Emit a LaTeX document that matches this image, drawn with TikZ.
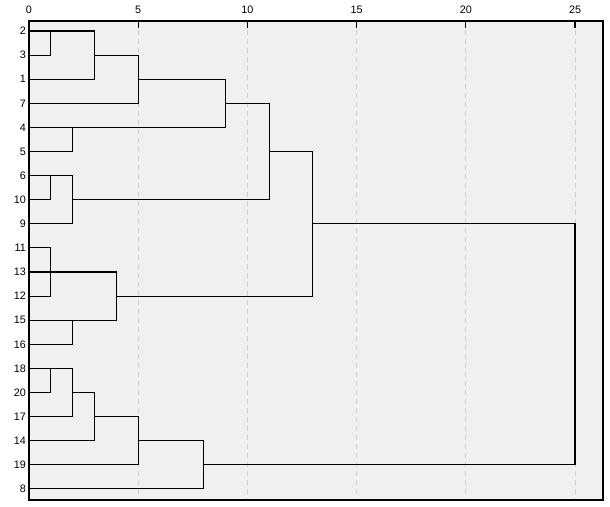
\documentclass[tikz,border=0pt]{standalone}
\usepackage{fontspec}
\setmainfont{Liberation Sans}
\definecolor{plotbg}{HTML}{F0F0F0}
\definecolor{gridc}{HTML}{CFCFCF}
\begin{document}
\begin{tikzpicture}[x=1pt,y=-1pt,
  every node/.style={font=\fontsize{10.8}{12}\selectfont, inner sep=0pt},
  tree/.style={line width=1.15pt, black},
  gridl/.style={line width=0.9pt, gridc, dash pattern=on 5pt off 4pt},
  frame/.style={line width=1.1pt, black}]
\useasboundingbox (0,0) rectangle (610,506);
\fill[white] (0,0) rectangle (610,506);
\fill[plotbg] (29,21) rectangle (603,500);
\begin{scope}[x=21.84pt, y=-24.1pt, shift={(29pt,-31pt)}]
  % grid lines and ticks
  \foreach \v in {5,10,15,20,25} {
    \draw[gridl] (\v,-0.415) -- (\v,19.46);
  }
  \foreach \v in {0,5,10,15,20,25} {
    \draw[frame] (\v,-0.415) -- ++(0,0.29);
    \node[anchor=south] (t\v) at (\v,-0.73) {\v};
  }
  % leaf labels
  \foreach \lab [count=\i from 0] in {2,3,1,7,4,5,6,10,9,11,13,12,15,16,18,20,17,14,19,8} {
    \node[anchor=east] (leaf\lab) at ([xshift=-3pt]0,\i) {\lab};
    \coordinate (r\lab) at (0,\i);
  }
  % A {2,3} at 1 ; B {A,1} at 3 ; C {B,7} at 5
  \draw[tree] (r2) -- (3,0) -- (3,2) -- (r1);
  \draw[tree] (r3) -- (1,1) -- (1,0);
  \draw[tree] (3,1) -- (5,1) -- (5,3) -- (r7);
  % D {4,5} at 2
  \draw[tree] (r4) -- (9,4) -- (9,2) -- (5,2);
  \draw[tree] (r5) -- (2,5) -- (2,4);
  % E {C,D} at 9 ; F {6,10} ; G {F,9}
  \draw[tree] (9,3) -- (11,3) -- (11,7) -- (2,7);
  \draw[tree] (r6) -- (2,6) -- (2,8) -- (r9);
  \draw[tree] (r10) -- (1,7) -- (1,6);
  % H {E,G} at 11 ; L at 13
  \draw[tree] (11,5) -- (13,5) -- (13,11) -- (4,11);
  % I {11,13,12} ; J {15,16} ; K at 4
  \draw[tree] (r11) -- (1,9) -- (1,11) -- (r12);
  \draw[tree] (r13) -- (4,10) -- (4,12) -- (r15);
  \draw[tree] (r16) -- (2,13) -- (2,12);
  % root
  \draw[tree] (13,8) -- (25,8) -- (25,18) -- (8,18);
  % M {18,20}; N; O; P; Q
  \draw[tree] (r18) -- (2,14) -- (2,16) -- (r17);
  \draw[tree] (r20) -- (1,15) -- (1,14);
  \draw[tree] (2,15) -- (3,15) -- (3,17) -- (r14);
  \draw[tree] (3,16) -- (5,16) -- (5,18) -- (r19);
  \draw[tree] (5,17) -- (8,17) -- (8,19) -- (r8);
\end{scope}
% frame
\draw[frame] (29,21) rectangle (603,500);
\end{tikzpicture}
\end{document}
